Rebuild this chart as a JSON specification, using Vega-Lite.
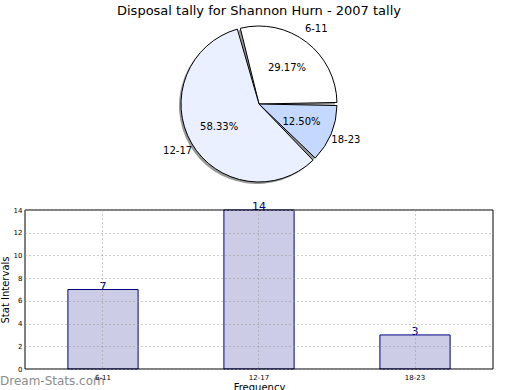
{
  "$schema": "https://vega.github.io/schema/vega-lite/v6.json",
  "background": "white",
  "padding": {"left": 0, "top": 5, "right": 5, "bottom": 0},
  "config": {
    "font": "DejaVu Sans",
    "view": {"stroke": null},
    "axis": {"labelFont": "DejaVu Sans", "titleFont": "DejaVu Sans", "titleFontWeight": "normal"}
  },
  "datasets": {
    "tally": [
      {"range": "6-11", "count": 7},
      {"range": "12-17", "count": 14},
      {"range": "18-23", "count": 3}
    ]
  },
  "vconcat": [
    {
      "title": {"text": "Disposal tally for Shannon Hurn - 2007 tally", "fontSize": 13, "fontWeight": "normal", "font": "DejaVu Sans", "offset": 6},
      "width": 468,
      "height": 160,
      "data": {"name": "tally"},
      "transform": [
        {"joinaggregate": [{"op": "sum", "field": "count", "as": "total"}]},
        {"calculate": "datum.count / datum.total", "as": "share"}
      ],
      "encoding": {
        "theta": {"field": "count", "type": "quantitative", "stack": true, "scale": {"range": [2.3562, 8.6394]}},
        "order": {"field": "count", "type": "quantitative", "sort": "descending"}
      },
      "layer": [
        {
          "mark": {"type": "arc", "outerRadius": 78, "fill": "#999999", "xOffset": -2, "yOffset": 2, "padAngle": 0.04}
        },
        {
          "mark": {"type": "arc", "outerRadius": 78, "stroke": "black", "strokeWidth": 1, "padAngle": 0.04},
          "encoding": {
            "fill": {"field": "range", "type": "nominal", "legend": null,
              "scale": {"domain": ["6-11", "12-17", "18-23"], "range": ["#ffffff", "#eaf0ff", "#c5d8ff"]}}
          }
        },
        {
          "mark": {"type": "text", "radius": 46, "fontSize": 10, "fill": "black"},
          "encoding": {"text": {"field": "share", "type": "quantitative", "format": ".2%"}}
        },
        {
          "mark": {"type": "text", "radius": 94, "fontSize": 10, "fill": "black"},
          "encoding": {"text": {"field": "range", "type": "nominal"}}
        }
      ]
    },
    {
      "width": 468,
      "height": 159,
      "data": {"name": "tally"},
      "encoding": {
        "x": {"field": "range", "type": "nominal", "sort": ["6-11", "12-17", "18-23"],
          "scale": {"paddingInner": 0.55, "paddingOuter": 0.275},
          "axis": {"title": "Frequency", "titleFontSize": 10, "titlePadding": 2, "labelFontSize": 7, "labelAngle": 0, "labelColor": "black",
            "labelPadding": 4, "tickSize": 0, "domain": false, "grid": true, "gridDash": [1, 3], "gridColor": "#999999", "gridWidth": 1, "zindex": 1, "bandPosition": 0.5}},
        "y": {"field": "count", "type": "quantitative", "scale": {"domain": [0, 14], "nice": false},
          "axis": {"title": "Stat Intervals", "titleFontSize": 10, "titlePadding": 3, "labelFontSize": 7, "labelColor": "black",
            "values": [0, 2, 4, 6, 8, 10, 12, 14], "labelPadding": 3, "tickSize": 0, "domain": false,
            "grid": true, "gridDash": [1, 3], "gridColor": "#999999", "gridWidth": 1, "zindex": 1}}
      },
      "layer": [
        {
          "mark": {"type": "bar", "fill": "#ccccE6", "stroke": "#000080", "strokeWidth": 1}
        },
        {
          "mark": {"type": "text", "baseline": "alphabetic", "fontSize": 11, "fill": "#000080", "dy": 0},
          "encoding": {"text": {"field": "count", "type": "quantitative"}}
        },
        {
          "data": {"values": [{"site": "Dream-Stats.com"}]},
          "mark": {"type": "text", "x": -25, "y": 171, "align": "left", "baseline": "middle", "fontSize": 12, "fill": "#8c8c8c"},
          "encoding": {"text": {"field": "site", "type": "nominal"}, "x": null, "y": null}
        },
        {
          "mark": {"type": "rect", "x": 0, "y": 0, "x2": 468, "y2": 159, "fill": null, "stroke": "black", "strokeWidth": 1},
          "data": {"values": [{}]},
          "encoding": {"x": null, "y": null}
        }
      ]
    }
  ],
  "spacing": 17
}
